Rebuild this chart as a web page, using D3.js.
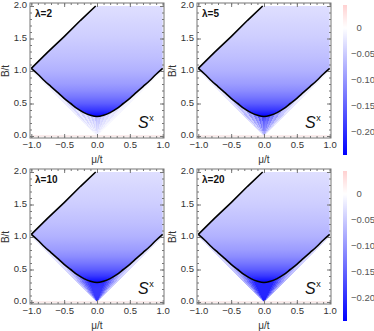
<!DOCTYPE html>
<html>
<head>
<meta charset="utf-8">
<script src="https://cdn.jsdelivr.net/npm/d3@7"></script>
<style>
body { margin: 0; background: #fff; }
svg { display: block; font-family: "Liberation Sans", Arial, sans-serif; }
.tick text { fill: #333; font-size: 9.5px; }
.tick line { stroke: #777; }
</style>
</head>
<body>
<svg id="chart" width="374" height="331"></svg>
<script>
// ---- data ----
var lambdas = [2, 5, 10, 20];
var muTicks = [-1, -0.5, 0, 0.5, 1];
var bTicks = [0, 0.5, 1, 1.5, 2];
var cbTicks = [0, -0.05, -0.1, -0.15, -0.2];
var cbRange = [0.044, -0.244];

// lower phase boundary (mu, B)
var lowerMu = [-1, -0.9, -0.8, -0.7, -0.6, -0.5, -0.4, -0.3, -0.2, -0.1, 0, 0.1, 0.2, 0.3, 0.4, 0.5, 0.6, 0.7, 0.8, 0.9, 1];
var lowerB  = [1.04, 0.95, 0.85, 0.76, 0.67, 0.58, 0.5, 0.42, 0.36, 0.32, 0.3, 0.32, 0.36, 0.42, 0.5, 0.58, 0.67, 0.76, 0.85, 0.95, 1.04];
// upper-left boundary (mu, B)
var upperMu = [-1, -0.75, -0.5, -0.25, -0.02];
var upperB  = [1.04, 1.29, 1.53, 1.78, 2.0];

// S^x inside the phase, by B
var insideB  = [0.3, 0.35, 0.4, 0.5, 0.6, 0.7, 0.8, 1.0, 1.2, 1.5, 1.75, 2.0];
var insideSx = [-0.24, -0.215, -0.19, -0.155, -0.13, -0.11, -0.095, -0.075, -0.062, -0.048, -0.039, -0.031];

// S^x leaking below the boundary, by B, one list per lambda
var fanB = [0, 0.1, 0.2, 0.3, 0.4, 0.6, 0.8, 1.0];
var fanSx2  = [-0.02, -0.04, -0.06, -0.08, -0.09, -0.08, -0.06, -0.05];
var fanSx5  = [-0.08, -0.12, -0.15, -0.18, -0.16, -0.11, -0.08, -0.065];
var fanSx10 = [-0.2, -0.19, -0.19, -0.2, -0.17, -0.12, -0.09, -0.07];
var fanSx20 = [-0.22, -0.21, -0.21, -0.21, -0.18, -0.125, -0.095, -0.075];
// streak strength by direction mu/B (edges of each wedge)
var fanSlopes = [-1, -0.9, -0.8, -0.7, -0.6, -0.5, -0.4, -0.3, -0.2, -0.1, 0, 0.1, 0.2, 0.3, 0.4, 0.5, 0.6, 0.7, 0.8, 0.9, 1];
var fanAlpha2  = [0.2, 0.45, 0.25, 0.55, 0.3, 0.6, 0.4, 0.7, 0.5, 0.85, 0.7, 0.8, 0.5, 0.6, 0.4, 0.45, 0.25, 0.3, 0.15, 0.1];
var fanAlpha5  = [0.2, 0.4, 0.3, 0.55, 0.45, 0.7, 0.6, 0.9, 0.75, 1, 0.95, 0.85, 0.9, 0.7, 0.75, 0.5, 0.55, 0.35, 0.3, 0.15];
var fanAlpha10 = [0.25, 0.4, 0.55, 0.7, 0.82, 0.92, 1, 1, 1, 1, 1, 1, 1, 1, 0.92, 0.82, 0.7, 0.55, 0.4, 0.25];
var fanAlpha20 = [0.35, 0.5, 0.65, 0.8, 0.9, 1, 1, 1, 1, 1, 1, 1, 1, 1, 1, 0.9, 0.8, 0.65, 0.5, 0.35];

var fanSx = [fanSx2, fanSx5, fanSx10, fanSx20];
var fanAlpha = [fanAlpha2, fanAlpha5, fanAlpha10, fanAlpha20];

// ---- drawing ----
var svg = d3.select('#chart');
var defs = svg.append('defs');

var color = d3.scaleLinear()
  .domain([-0.244, 0, 0.244])
  .range(['#0000ff', '#ffffff', '#ff0000']);

var fmt1 = d3.format('.1f');
var offsets = [[0, 0], [167, 0], [0, 166], [167, 166]];

function vGradient(id, y, bs, vals) {
  var grad = defs.append('linearGradient')
    .attr('id', id)
    .attr('gradientUnits', 'userSpaceOnUse')
    .attr('x1', 0).attr('x2', 0)
    .attr('y1', y(0)).attr('y2', y(2));
  grad.selectAll('stop')
    .data(bs)
    .enter().append('stop')
    .attr('offset', function(d) { return d / 2; })
    .attr('stop-color', function(d, i) { return color(vals[i]); });
}

lambdas.forEach(function(lam, k) {
  var ox = offsets[k][0], oy = offsets[k][1];
  var fl = 30 + ox, fr = 164 + ox, ft = 3 + oy, fb = 138 + oy;

  var x = d3.scaleLinear().domain([-1, 1]).range([31.3 + ox, 162.7 + ox]);
  var y = d3.scaleLinear().domain([0, 2]).range([136 + oy, 6 + oy]);

  var lowerPts = lowerMu.map(function(m, i) { return [x(m), y(lowerB[i])]; });
  var upperPts = upperMu.map(function(m, i) { return [x(m), y(upperB[i])]; });

  var smooth = d3.line().curve(d3.curveMonotoneX);
  var straight = d3.line();
  var lowerPath = smooth(lowerPts);

  vGradient('inside' + k, y, insideB, insideSx);
  vGradient('fan' + k, y, fanB, fanSx[k]);

  // region below the lower boundary (where the streaks live)
  defs.append('clipPath').attr('id', 'below' + k)
    .append('path')
    .attr('d', lowerPath + 'L' + x(1) + ',' + y(-0.02) + 'L' + x(-1) + ',' + y(-0.02) + 'Z');

  var g = svg.append('g');

  var wedges = d3.range(fanSlopes.length - 1);
  g.append('g').attr('clip-path', 'url(#below' + k + ')')
    .attr('shape-rendering', 'crispEdges')
    .selectAll('path')
    .data(wedges)
    .enter().append('path')
    .attr('d', function(i) {
      return straight([[x(0), y(0)],
        [x(fanSlopes[i] * 2.5), y(2.5)],
        [x(fanSlopes[i + 1] * 2.5), y(2.5)]]) + 'Z';
    })
    .attr('fill', 'url(#fan' + k + ')')
    .attr('fill-opacity', function(i) { return fanAlpha[k][i]; });

  // topological region
  var upperRev = upperPts.slice().reverse();
  g.append('path')
    .attr('d', lowerPath + 'L' + x(1) + ',' + y(2) + straight(upperRev).replace('M', 'L') + 'Z')
    .attr('fill', 'url(#inside' + k + ')');

  // faint line on B = 0
  g.append('line')
    .attr('x1', x(-1)).attr('x2', x(1))
    .attr('y1', y(0)).attr('y2', y(0))
    .attr('stroke', '#f4d8d8').attr('stroke-width', 1);

  g.append('path').attr('d', lowerPath)
    .attr('fill', 'none').attr('stroke', '#000').attr('stroke-width', 1.6);
  g.append('path').attr('d', straight(upperPts))
    .attr('fill', 'none').attr('stroke', '#000').attr('stroke-width', 1.6);

  // frame
  g.append('rect')
    .attr('x', fl).attr('y', ft)
    .attr('width', fr - fl).attr('height', fb - ft)
    .attr('fill', 'none').attr('stroke', '#777').attr('stroke-width', 1);

  function clean(sel) { sel.select('.domain').remove(); }

  g.append('g').attr('transform', 'translate(0,' + fb + ')')
    .call(d3.axisBottom(x).tickValues(muTicks).tickSize(-4).tickPadding(3).tickFormat(fmt1)).call(clean);
  g.append('g').attr('transform', 'translate(0,' + fb + ')')
    .call(d3.axisBottom(x).ticks(20).tickSize(-2).tickFormat('')).call(clean);
  g.append('g').attr('transform', 'translate(0,' + ft + ')')
    .call(d3.axisTop(x).tickValues(muTicks).tickSize(-4).tickFormat('')).call(clean);
  g.append('g').attr('transform', 'translate(0,' + ft + ')')
    .call(d3.axisTop(x).ticks(20).tickSize(-2).tickFormat('')).call(clean);

  g.append('g').attr('transform', 'translate(' + fl + ',0)')
    .call(d3.axisLeft(y).tickValues(bTicks).tickSize(-4).tickPadding(3).tickFormat(fmt1))
    .call(clean)
    .call(function(sel) { sel.selectAll('text').attr('dy', '0.2em'); });
  g.append('g').attr('transform', 'translate(' + fl + ',0)')
    .call(d3.axisLeft(y).ticks(20).tickSize(-2).tickFormat('')).call(clean);
  g.append('g').attr('transform', 'translate(' + fr + ',0)')
    .call(d3.axisRight(y).tickValues(bTicks).tickSize(-4).tickFormat('')).call(clean);
  g.append('g').attr('transform', 'translate(' + fr + ',0)')
    .call(d3.axisRight(y).ticks(20).tickSize(-2).tickFormat('')).call(clean);

  // labels
  g.append('text')
    .attr('x', (fl + fr) / 2).attr('y', fb + 25)
    .attr('text-anchor', 'middle')
    .attr('font-size', 10).attr('fill', '#333')
    .text('\u03bc/t');
  g.append('text')
    .attr('transform', 'translate(' + (fl - 21) + ',' + y(1) + ') rotate(-90)')
    .attr('text-anchor', 'middle')
    .attr('font-size', 10).attr('fill', '#333')
    .text('B/t');

  g.append('text')
    .attr('x', fl + 5).attr('y', ft + 14)
    .attr('font-size', 10).attr('font-weight', 'bold').attr('fill', '#111')
    .text('\u03bb=' + lam);

  var sx = g.append('text')
    .attr('x', fl + 108).attr('y', fb - 10)
    .attr('fill', '#111');
  sx.append('tspan').attr('font-size', 16).attr('font-style', 'italic').text('S');
  sx.append('tspan').attr('font-size', 9).attr('dy', -7).attr('dx', 0.5).text('x');
});

// colour bars
[[5, 155], [171, 321]].forEach(function(r, j) {
  var cy = d3.scaleLinear().domain(cbRange).range(r);
  var id = 'cbar' + j;
  var grad = defs.append('linearGradient')
    .attr('id', id)
    .attr('gradientUnits', 'userSpaceOnUse')
    .attr('x1', 0).attr('x2', 0)
    .attr('y1', cy(cbRange[0])).attr('y2', cy(cbRange[1]));
  var stops = [cbRange[0], 0, cbRange[1]];
  grad.selectAll('stop')
    .data(stops)
    .enter().append('stop')
    .attr('offset', function(d) { return (cy(d) - r[0]) / (r[1] - r[0]); })
    .attr('stop-color', function(d) { return color(d); });

  svg.append('rect')
    .attr('x', 343).attr('y', r[0])
    .attr('width', 4).attr('height', r[1] - r[0])
    .attr('fill', 'url(#' + id + ')');

  svg.append('g').selectAll('text')
    .data(cbTicks)
    .enter().append('text')
    .attr('x', function(d) { return d === 0 ? 356.5 : 351; })
    .attr('y', function(d) { return cy(d); })
    .attr('dy', '0.35em')
    .attr('font-size', 9.5).attr('fill', '#555')
    .text(function(d) { return d === 0 ? '0' : d3.format('.2f')(d); });
});
</script>
</body>
</html>
